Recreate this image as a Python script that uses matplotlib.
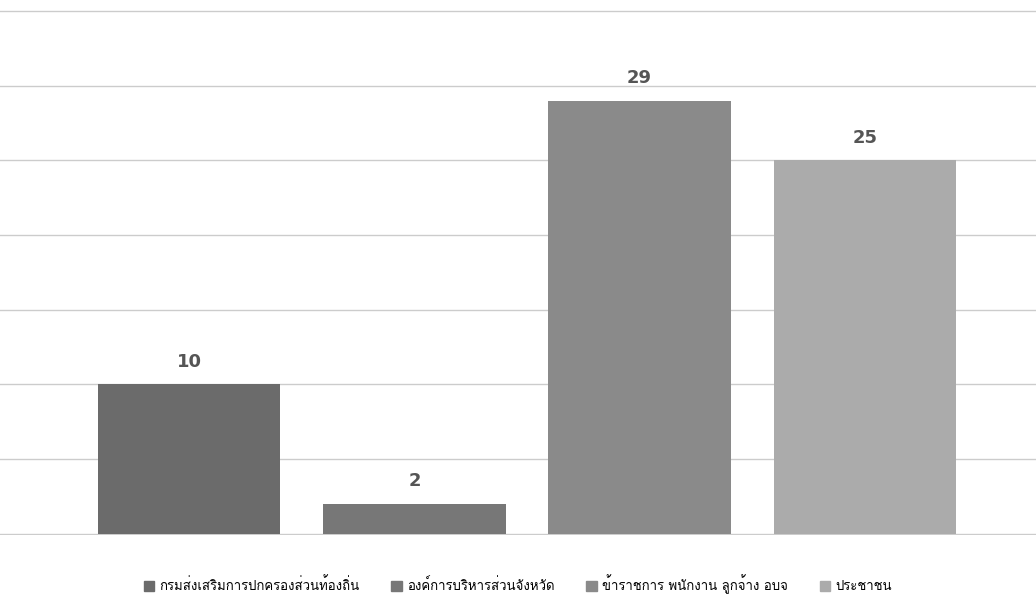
import matplotlib
matplotlib.use("Agg")
import matplotlib.pyplot as plt
from matplotlib import font_manager
from fontTools.ttLib import TTFont

# categories and values
categories = ["กรมส่งเสริมการปกครองส่วนท้องถิ่น", "องค์การบริหารส่วนจังหวัด",
              "ข้าราชการ พนักงาน ลูกจ้าง อบจ", "ประชาชน"]
values = [10, 2, 29, 25]
colors = ["#6b6b6b", "#777777", "#8a8a8a", "#ababab"]


def find_thai_font():
    # look for an installed font that has Thai glyphs
    found = []
    for f in font_manager.fontManager.ttflist:
        try:
            tt = TTFont(f.fname, fontNumber=0, lazy=True)
            cmap = tt.getBestCmap()
            if cmap and 0x0E01 in cmap:
                found.append(f.name)
        except Exception:
            pass
    return found


thai = find_thai_font()
plt.rcParams["font.family"] = list(dict.fromkeys(thai)) + ["DejaVu Sans"]

fig = plt.figure(figsize=(10.36, 6.06), dpi=100)
ax = fig.add_axes([0.0, 0.117, 1.0, 0.872])

x = range(len(values))
ax.bar(x, values, width=0.81, color=colors, zorder=2)
for i, v in zip(x, values):
    ax.text(i, v + 0.9, str(v), ha="center", va="bottom", fontsize=13,
            fontweight="bold", color="#555555", family="DejaVu Sans")

ax.set_ylim(-0.1, 35.3)
ax.set_xlim(-0.84, 3.76)
ax.set_yticks(range(0, 36, 5), [])
ax.yaxis.grid(True, color="#cccccc", linewidth=1, zorder=0)
ax.set_xticks([])
ax.tick_params(left=False)
for s in ax.spines.values():
    s.set_visible(False)

handles = [plt.Rectangle((0, 0), 1, 1, color=c) for c in colors]
fig.legend(handles, categories, loc="lower center", ncol=4, frameon=False,
           bbox_to_anchor=(0.5, 0.0), fontsize=9.5, handlelength=0.8,
           handleheight=0.8, columnspacing=2.4, handletextpad=0.4)

fig.savefig("out.png", dpi=100)
